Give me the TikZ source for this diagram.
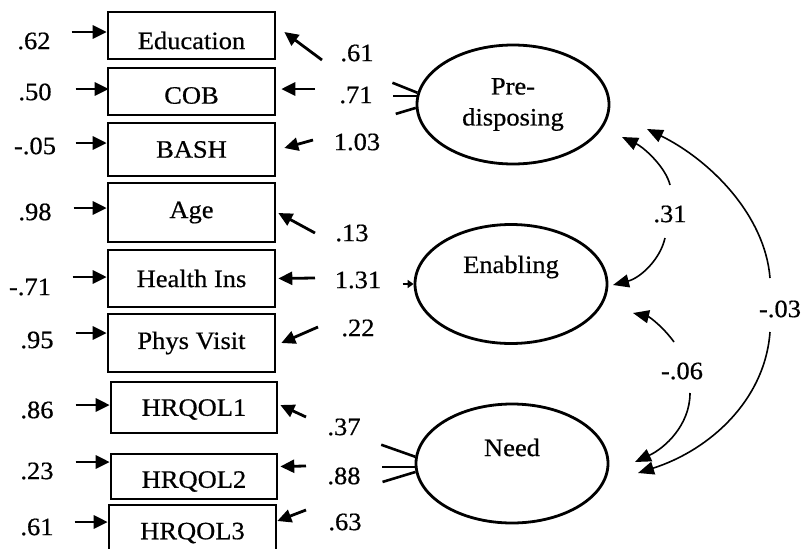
\documentclass[tikz,border=0pt]{standalone}
\usepackage{fontspec}
\setmainfont{Liberation Serif}[FakeStretch=1.06,FakeBold=0.6]
\usetikzlibrary{arrows.meta,shapes.geometric}
% shift the ink of a text without changing its box
\newcommand\liftby[2]{\raisebox{#1}[\height][\depth]{#2}}
\begin{document}
\begin{tikzpicture}[x=1pt,y=-1pt,
  every node/.style={font=\fontsize{25}{31}\selectfont, inner sep=0pt},
  obs/.style={draw, line width=2.6pt, minimum width=167pt},
  lat/.style={ellipse, draw, line width=2.8pt, minimum width=192pt, minimum height=119pt, align=center},
  ind/.style={line width=2.8pt, -{Triangle[length=14pt,width=13pt]}},
  cov/.style={line width=1.6pt, -{Triangle[length=16pt,width=13pt]}},
  stub/.style={line width=2.6pt}]
\useasboundingbox (0,0) rectangle (801,549);
\clip (0,0) rectangle (801,549);

% observed indicators
\node[obs, minimum height=47pt] (edu)  at (191.5,35.5)  {\liftby{-5pt}{Education}};
\node[obs, minimum height=47pt] (cob)  at (191.5,91.5)  {\liftby{-4pt}{COB}};
\node[obs, minimum height=53pt] (bash) at (191.5,149.5) {BASH};
\node[obs, minimum height=59pt] (age)  at (191.5,212.5) {Age};
\node[obs, minimum height=57pt] (hins) at (191.5,278.5) {Health Ins};
\node[obs, minimum height=58pt] (phys) at (191.5,343)   {Phys Visit};
\node[obs, minimum height=51pt, minimum width=166pt] (hq1) at (194,407.5) {\liftby{-2pt}{HRQOL1}};
\node[obs, minimum height=45pt, minimum width=166pt] (hq2) at (194,476.5) {\liftby{-5pt}{HRQOL2}};
\node[obs, minimum height=56pt, minimum width=167pt] (hq3) at (192.5,533) {HRQOL3};

% latent factors
\node[lat] (pre)  at (513,104.5) {Pre-\\disposing};
\node[lat] (ena)  at (511,284)   {\liftby{17pt}{Enabling}};
\node[lat] (need) at (512,463.5) {\liftby{16pt}{Need}};

% error terms on the left
\node (e1) at (34,41)  {.62};
\node (e2) at (35,92)  {.50};
\node (e3) at (35,146) {-.05};
\node (e4) at (35,212) {.98};
\node (e5) at (30,287) {-.71};
\node (e6) at (37,340) {.95};
\node (e7) at (37,410) {.86};
\node (e8) at (37,471) {.23};
\node (e9) at (37,527) {.61};

\draw[ind] ([shift={(-35,-3.5)}]edu.west) -- ([shift={(0,-3.5)}]edu.west);
\draw[ind] ([shift={(-31,-2.5)}]cob.west) -- ([shift={(2,-2.5)}]cob.west);
\draw[ind] ([shift={(-31,-6.5)}]bash.west) -- ([shift={(0,-6.5)}]bash.west);
\draw[ind] ([shift={(-33,-4.5)}]age.west) -- ([shift={(0,-4.5)}]age.west);
\draw[ind] ([shift={(-34,-1.5)}]hins.west) -- ([shift={(0,-1.5)}]hins.west);
\draw[ind] ([shift={(-31,-10)}]phys.west) -- ([shift={(0,-10)}]phys.west);
\draw[ind] ([shift={(-34,-2.5)}]hq1.west) -- ([shift={(0,-2.5)}]hq1.west);
\draw[ind] ([shift={(-34,-14.5)}]hq2.west) -- ([shift={(0,-14.5)}]hq2.west);
\draw[ind] ([shift={(-33,-11)}]hq3.west) -- ([shift={(0,-11)}]hq3.west);

% loadings on the right
\node (l1) at (357,53)  {.61};
\node (l2) at (356,95)  {.71};
\node (l3) at (357,142) {1.03};
\node (l4) at (352,233) {.13};
\node (l5) at (358,280) {1.31};
\node (l6) at (358,328) {.22};
\node (l7) at (344,427) {.37};
\node (l8) at (344,476) {.88};
\node (l9) at (345,522) {.63};

\coordinate (s1) at (322,60);
\coordinate (s2) at (315,89);
\coordinate (s3) at (313,140);
\coordinate (s4) at (315,233);
\coordinate (s5) at (315,278);
\coordinate (s6) at (318,327);
\coordinate (s7) at (306,417);
\coordinate (s8) at (306,466);
\coordinate (s9) at (306,510);

\draw[ind] (s1) -- ([shift={(8,-3.5)}]edu.east);
\draw[ind] (s2) -- ([shift={(5,-2.5)}]cob.east);
\draw[ind] (s3) -- ([shift={(8,-1.5)}]bash.east);
\draw[ind] (s4) -- ([shift={(2,0.5)}]age.east);
\draw[ind] (s5) -- ([shift={(2,0)}]hins.east);
\draw[ind] (s6) -- ([shift={(5,0)}]phys.east);
\draw[ind] (s7) -- ([shift={(2,-2.5)}]hq1.east);
\draw[ind] (s8) -- ([shift={(2,-10)}]hq2.east);
\draw[ind] (s9) -- ([shift={(0,-12)}]hq3.east);

% stubs on the factors
\draw[stub] (pre.173) -- ++(-25,-10);
\draw[stub] (pre.175.5) -- ++(-24,0);
\draw[stub] (pre.182) -- ++(-20,6);
\draw[stub] (need.176) -- ++(-34,-12);
\draw[stub] (need.182) -- ++(-33,0);
\draw[stub] (need.185) -- ++(-33,10);
\draw[line width=2pt, -{Triangle[length=6pt,width=8pt]}] ([xshift=-11pt]ena.west) -- (ena.west);

% factor covariances
\node (k1) at (670,214) {.31};
\node (k2) at (682,371) {-.06};
\node (k3) at (780,309) {-.03};

\coordinate (a1) at (670,185);
\coordinate (t1) at (622,137);
\coordinate (a2) at (665,238);
\coordinate (t2) at (613,285);
\coordinate (a3) at (674,342);
\coordinate (t3) at (633,313);
\coordinate (a4) at (690,393);
\coordinate (t4) at (635,462);
\coordinate (a5) at (770,278);
\coordinate (t5) at (647,129);
\coordinate (a6) at (770,332);
\coordinate (t6) at (638,473);

\draw[cov] (a1) .. controls (666,168) and (645,148) .. (t1);
\draw[cov] (a2) .. controls (660,260) and (640,278) .. (t2);
\draw[cov] (a3) .. controls (664,328) and (650,317) .. (t3);
\draw[cov] (a4) .. controls (690,425) and (665,448) .. (t4);
\draw[cov] (a5) .. controls (765,215) and (710,160) .. (t5);
\draw[cov] (a6) .. controls (765,400) and (710,450) .. (t6);
\end{tikzpicture}
\end{document}
